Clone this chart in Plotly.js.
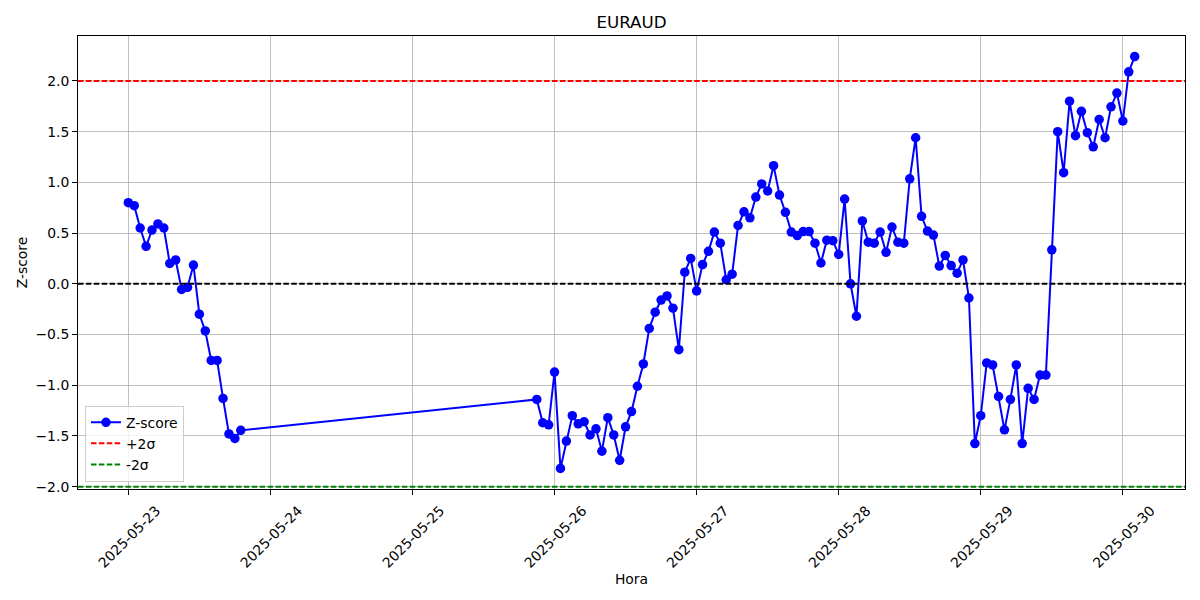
<!DOCTYPE html>
<html>
<head>
<meta charset="utf-8">
<script src="https://cdn.plot.ly/plotly-3.0.1.min.js"></script>
<style>html,body{margin:0;padding:0;background:#fff;}#chart{width:1200px;height:600px;}</style>
</head>
<body>
<div id="chart"></div>
<script>
const chartTitle = 'EURAUD';
const seriesName = 'Z-score';
const upperName = '+2σ';
const lowerName = '-2σ';
const upperLevel = 2;
const lowerLevel = -2;
const zeroLevel = 0;

const times = [
  '2025-05-23 00:00','2025-05-23 01:00','2025-05-23 02:00','2025-05-23 03:00','2025-05-23 04:00','2025-05-23 05:00',
  '2025-05-23 06:00','2025-05-23 07:00','2025-05-23 08:00','2025-05-23 09:00','2025-05-23 10:00','2025-05-23 11:00',
  '2025-05-23 12:00','2025-05-23 13:00','2025-05-23 14:00','2025-05-23 15:00','2025-05-23 16:00','2025-05-23 17:00',
  '2025-05-23 18:00','2025-05-23 19:00',
  '2025-05-25 21:00','2025-05-25 22:00','2025-05-25 23:00',
  '2025-05-26 00:00','2025-05-26 01:00','2025-05-26 02:00','2025-05-26 03:00','2025-05-26 04:00','2025-05-26 05:00',
  '2025-05-26 06:00','2025-05-26 07:00','2025-05-26 08:00','2025-05-26 09:00','2025-05-26 10:00','2025-05-26 11:00',
  '2025-05-26 12:00','2025-05-26 13:00','2025-05-26 14:00','2025-05-26 15:00','2025-05-26 16:00','2025-05-26 17:00',
  '2025-05-26 18:00','2025-05-26 19:00','2025-05-26 20:00','2025-05-26 21:00','2025-05-26 22:00','2025-05-26 23:00',
  '2025-05-27 00:00','2025-05-27 01:00','2025-05-27 02:00','2025-05-27 03:00','2025-05-27 04:00','2025-05-27 05:00',
  '2025-05-27 06:00','2025-05-27 07:00','2025-05-27 08:00','2025-05-27 09:00','2025-05-27 10:00','2025-05-27 11:00',
  '2025-05-27 12:00','2025-05-27 13:00','2025-05-27 14:00','2025-05-27 15:00','2025-05-27 16:00','2025-05-27 17:00',
  '2025-05-27 18:00','2025-05-27 19:00','2025-05-27 20:00','2025-05-27 21:00','2025-05-27 22:00','2025-05-27 23:00',
  '2025-05-28 00:00','2025-05-28 01:00','2025-05-28 02:00','2025-05-28 03:00','2025-05-28 04:00','2025-05-28 05:00',
  '2025-05-28 06:00','2025-05-28 07:00','2025-05-28 08:00','2025-05-28 09:00','2025-05-28 10:00','2025-05-28 11:00',
  '2025-05-28 12:00','2025-05-28 13:00','2025-05-28 14:00','2025-05-28 15:00','2025-05-28 16:00','2025-05-28 17:00',
  '2025-05-28 18:00','2025-05-28 19:00','2025-05-28 20:00','2025-05-28 21:00','2025-05-28 22:00','2025-05-28 23:00',
  '2025-05-29 00:00','2025-05-29 01:00','2025-05-29 02:00','2025-05-29 03:00','2025-05-29 04:00','2025-05-29 05:00',
  '2025-05-29 06:00','2025-05-29 07:00','2025-05-29 08:00','2025-05-29 09:00','2025-05-29 10:00','2025-05-29 11:00',
  '2025-05-29 12:00','2025-05-29 13:00','2025-05-29 14:00','2025-05-29 15:00','2025-05-29 16:00','2025-05-29 17:00',
  '2025-05-29 18:00','2025-05-29 19:00','2025-05-29 20:00','2025-05-29 21:00','2025-05-29 22:00','2025-05-29 23:00',
  '2025-05-30 00:00','2025-05-30 01:00','2025-05-30 02:00'
];

const zscore = [
  0.80, 0.77, 0.55, 0.37, 0.53, 0.59, 0.55, 0.20, 0.235, -0.055, -0.035, 0.185, -0.30, -0.465, -0.755, -0.755, -1.13, -1.48, -1.525, -1.445,
  -1.14, -1.37, -1.39,
  -0.87, -1.82, -1.55, -1.30, -1.38, -1.36, -1.49, -1.43, -1.65, -1.32, -1.49, -1.74, -1.41, -1.26, -1.01, -0.79, -0.44, -0.28, -0.16, -0.12, -0.24, -0.65, 0.115, 0.25,
  -0.07, 0.19, 0.32, 0.51, 0.40, 0.04, 0.095, 0.575, 0.71, 0.65, 0.855, 0.985, 0.915, 1.165, 0.875, 0.705, 0.51, 0.475, 0.515, 0.515, 0.40, 0.205, 0.43, 0.425,
  0.29, 0.835, 0.0, -0.32, 0.62, 0.41, 0.40, 0.51, 0.31, 0.56, 0.41, 0.40, 1.035, 1.44, 0.665, 0.52, 0.48, 0.175, 0.28, 0.18, 0.105, 0.235, -0.14, -1.575,
  -1.30, -0.78, -0.80, -1.11, -1.44, -1.14, -0.80, -1.575, -1.03, -1.14, -0.90, -0.90, 0.335, 1.50, 1.095, 1.80, 1.46, 1.70, 1.49, 1.35, 1.62, 1.44, 1.745, 1.88,
  1.605, 2.09, 2.24
];

const yTickVals = [-2.0, -1.5, -1.0, -0.5, 0.0, 0.5, 1.0, 1.5, 2.0];

// axis ranges with 5% margins (matplotlib default)
const tms = times.map(t => new Date(t.replace(' ', 'T') + ':00Z').getTime());
const tMin = Math.min(...tms), tMax = Math.max(...tms);
const tPad = (tMax - tMin) * 0.05;
const fmt = ms => new Date(ms).toISOString().replace('T', ' ').slice(0, 19);
const xRange = [fmt(tMin - tPad), fmt(tMax + tPad)];
const zMin = Math.min(...zscore), zMax = Math.max(...zscore);
const zPad = (zMax - zMin) * 0.05;
const yRange = [zMin - zPad, zMax + zPad];

const FONT = 'DejaVu Sans, sans-serif';
const dash = '5.5px,2.4px';

const traces = [
  {
    x: times, y: zscore, type: 'scatter', mode: 'lines+markers', name: seriesName,
    line: {color: '#0000ff', width: 2},
    marker: {color: '#0000ff', size: 9.5, symbol: 'circle'}
  },
  {
    x: xRange, y: [upperLevel, upperLevel], type: 'scatter', mode: 'lines', name: upperName,
    line: {color: '#ff0000', width: 2, dash: dash}
  },
  {
    x: xRange, y: [lowerLevel, lowerLevel], type: 'scatter', mode: 'lines', name: lowerName,
    line: {color: '#008000', width: 2, dash: dash}
  },
  {
    x: xRange, y: [zeroLevel, zeroLevel], type: 'scatter', mode: 'lines', name: 'zero', showlegend: false,
    line: {color: '#000000', width: 2, dash: dash}
  }
];

const layout = {
  width: 1200, height: 600,
  paper_bgcolor: '#ffffff', plot_bgcolor: '#ffffff',
  font: {family: FONT, size: 13.9, color: '#000000'},
  margin: {l: 78, r: 15, t: 36, b: 111, pad: 0},
  title: {
    text: chartTitle, font: {family: FONT, size: 16.7, color: '#000000'},
    x: 0.5, xref: 'paper', xanchor: 'center',
    y: 1, yref: 'paper', yanchor: 'bottom', pad: {b: 8}
  },
  showlegend: true,
  legend: {
    x: 0.0063, y: 0.016, xanchor: 'left', yanchor: 'bottom',
    bgcolor: 'rgba(255,255,255,0.8)', bordercolor: '#cccccc', borderwidth: 1,
    font: {family: FONT, size: 13.9, color: '#000000'},
    tracegroupgap: 0, itemwidth: 30
  },
  xaxis: {
    type: 'date', range: xRange,
    tickmode: 'linear', tick0: '2025-05-23', dtick: 86400000, tickformat: '%Y-%m-%d',
    tickangle: -45, ticklabelshift: 28, ticklabelstandoff: 2,
    showgrid: true, gridcolor: '#b0b0b0', gridwidth: 0.8,
    showline: true, linecolor: '#000000', linewidth: 1, mirror: true,
    ticks: 'outside', ticklen: 5, tickwidth: 1, tickcolor: '#000000',
    zeroline: false,
    tickfont: {family: FONT, size: 13.9, color: '#000000'},
    title: {text: 'Hora', font: {family: FONT, size: 13.9, color: '#000000'}, standoff: 4}
  },
  yaxis: {
    range: yRange,
    tickmode: 'array', tickvals: yTickVals, tickformat: '.1f',
    showgrid: true, gridcolor: '#b0b0b0', gridwidth: 0.8,
    showline: true, linecolor: '#000000', linewidth: 1, mirror: true,
    ticks: 'outside', ticklen: 5, tickwidth: 1, tickcolor: '#000000',
    zeroline: false,
    tickfont: {family: FONT, size: 13.9, color: '#000000'},
    title: {text: 'Z-score', font: {family: FONT, size: 13.9, color: '#000000'}, standoff: 4}
  }
};

Plotly.newPlot('chart', traces, layout, {staticPlot: true, displayModeBar: false});
</script>
</body>
</html>
